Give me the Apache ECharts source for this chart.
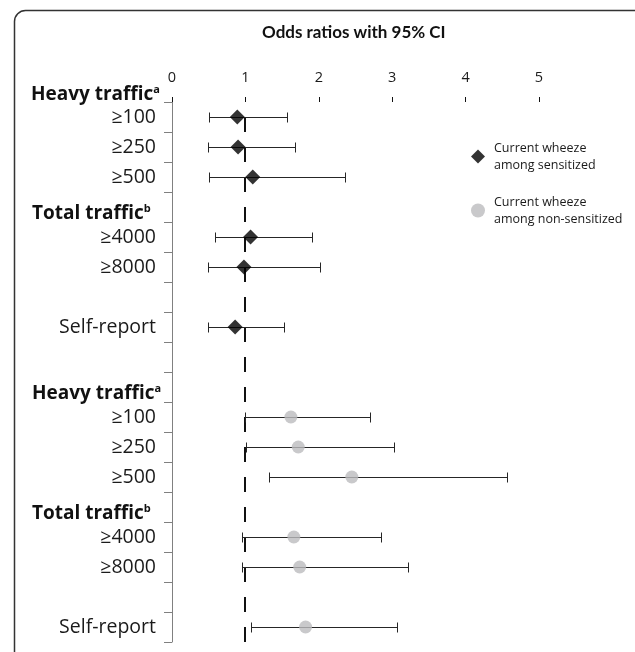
<!DOCTYPE html>
<html>
<head>
<meta charset="utf-8">
<script src="https://cdn.jsdelivr.net/npm/echarts@6/dist/echarts.min.js"></script>
<style>
html,body{margin:0;padding:0;background:#ffffff;}
#chart{width:635px;height:652px;}
</style>
</head>
<body>
<div id="chart"></div>
<script>
// ---- data ----
const categories = ['≥100','≥250','≥500','Total traffic','≥4000','≥8000','','Self-report','',
                    'Heavy traffic','≥100','≥250','≥500','Total traffic','≥4000','≥8000','','Self-report'];
const headerLabels = ['Heavy traffic', 'Total traffic'];
const headerNotes = ['a', 'b'];
const topHeader = 'Heavy traffic';
const topHeaderNote = 'a';
const xTicks = [0, 1, 2, 3, 4, 5];
const referenceOR = 1;

const sensName = 'Current wheeze among sensitized';
const sensRows  = [0, 1, 2, 4, 5, 7];
const sensOR    = [0.89, 0.90, 1.10, 1.07, 0.98, 0.86];
const sensLow   = [0.51, 0.49, 0.51, 0.59, 0.49, 0.49];
const sensHigh  = [1.56, 1.67, 2.36, 1.91, 2.01, 1.52];

const nonName = 'Current wheeze among non-sensitized';
const nonRows  = [10, 11, 12, 14, 15, 17];
const nonOR    = [1.62, 1.72, 2.45, 1.66, 1.74, 1.82];
const nonLow   = [0.99, 1.01, 1.32, 0.96, 0.96, 1.07];
const nonHigh  = [2.70, 3.03, 4.57, 2.85, 3.21, 3.07];

// ---- build ----
const FONT = "'Open Sans', 'DejaVu Sans', sans-serif";
const TFONT = "Lato, 'Open Sans', sans-serif";
const chart = echarts.init(document.getElementById('chart'), null, {renderer: 'canvas'});

function errData(rows, lo, hi) { return rows.map((r, i) => [lo[i], hi[i], r]); }
function ptData(rows, v) { return rows.map((r, i) => [v[i], r]); }

function renderErr(params, api) {
  const a = api.coord([api.value(0), api.value(2)]);
  const b = api.coord([api.value(1), api.value(2)]);
  const y = Math.round(a[1]) + 0.5;
  const x1 = Math.round(a[0]) + 0.5, x2 = Math.round(b[0]) + 0.5;
  const cap = 5;
  const st = {stroke: '#262626', lineWidth: 1};
  return {type: 'group', children: [
    {type: 'line', shape: {x1: x1, y1: y, x2: x2, y2: y}, style: st},
    {type: 'line', shape: {x1: x1, y1: y - cap, x2: x1, y2: y + cap}, style: st},
    {type: 'line', shape: {x1: x2, y1: y - cap, x2: x2, y2: y + cap}, style: st}
  ]};
}

function renderRef(params, api) {
  const p = api.coord([api.value(0), 0]);
  const x = Math.round(p[0]);
  return {type: 'line',
    shape: {x1: x, y1: params.coordSys.y, x2: x, y2: api.getHeight()},
    style: {stroke: '#111', lineWidth: 2, lineDash: [15, 15], lineDashOffset: 15}};
}

function yLabel(value) {
  const hi = headerLabels.indexOf(value);
  if (hi >= 0) return '{sp| }\n{h|' + value + '}{sup|' + headerNotes[hi] + '}';
  if (value === '') return '';
  return '{n|' + value + '}';
}

const option = {
  animation: false,
  backgroundColor: '#ffffff',
  title: {
    text: 'Odds ratios with 95% CI',
    left: 262, top: 24, padding: 0,
    textStyle: {fontFamily: TFONT, fontSize: 17, fontWeight: 'bold', color: '#111'}
  },
  graphic: [{
    type: 'rect', z: -1,
    shape: {x: 14.5, y: 10.5, width: 640, height: 700, r: 11},
    style: {fill: 'none', stroke: '#333', lineWidth: 1.5}
  }],
  legend: {
    orient: 'vertical', left: 471, top: 131, padding: 0,
    itemWidth: 14, itemHeight: 14, itemGap: 3,
    data: [{name: sensName, icon: 'diamond'}, {name: nonName, icon: 'circle'}],
    formatter: n => n.replace(' among', '\namong'),
    textStyle: {fontFamily: FONT, fontSize: 12.5, color: '#1a1a1a', lineHeight: 17, padding: [17, 0, 0, 4]}
  },
  grid: {left: 172, right: 96, top: 102, bottom: 10, containLabel: false},
  xAxis: {
    type: 'value', position: 'top', min: xTicks[0], max: xTicks[xTicks.length - 1], interval: 1,
    name: '{h|' + topHeader + '}{sup|' + topHeaderNote + '}',
    nameLocation: 'start', nameGap: 12,
    nameTextStyle: {
      padding: [0, 0, 14, 0],
      rich: {
        h: {fontFamily: FONT, fontSize: 19, fontWeight: 'bold', color: '#111', lineHeight: 22},
        sup: {fontFamily: FONT, fontSize: 11, fontWeight: 'bold', color: '#111', verticalAlign: 'top', lineHeight: 12}
      }
    },
    axisLine: {lineStyle: {color: '#111', width: 1}},
    axisTick: {show: true, length: 5, lineStyle: {color: '#111'}},
    axisLabel: {fontFamily: FONT, fontSize: 14.5, color: '#1a1a1a', margin: 17},
    splitLine: {show: false}
  },
  yAxis: {
    type: 'category', inverse: true, data: categories,
    axisLine: {lineStyle: {color: '#808080', width: 1}},
    axisTick: {show: true, length: 8, interval: 0, lineStyle: {color: '#808080'}},
    axisLabel: {
      interval: 0, align: 'left', margin: 140, formatter: yLabel,
      rich: {
        n: {fontFamily: FONT, fontSize: 19.5, color: '#1a1a1a', width: 124, align: 'right'},
        h: {fontFamily: FONT, fontSize: 19, fontWeight: 'bold', color: '#111', lineHeight: 22},
        sup: {fontFamily: FONT, fontSize: 11, fontWeight: 'bold', color: '#111', verticalAlign: 'top', lineHeight: 12},
        sp: {fontSize: 1, lineHeight: 14}
      }
    },
    splitLine: {show: false}
  },
  series: [
    {type: 'custom', name: 'ref', data: [[referenceOR]], renderItem: renderRef, encode: {x: 0}, silent: true, z: 1},
    {type: 'custom', name: sensName + ' CI', data: errData(sensRows, sensLow, sensHigh), renderItem: renderErr, encode: {x: [0, 1], y: 2}, z: 2, silent: true},
    {type: 'custom', name: nonName + ' CI', data: errData(nonRows, nonLow, nonHigh), renderItem: renderErr, encode: {x: [0, 1], y: 2}, z: 2, silent: true},
    {type: 'scatter', name: sensName, data: ptData(sensRows, sensOR), symbol: 'diamond', symbolSize: 15,
     itemStyle: {color: '#000000'}, z: 3},
    {type: 'scatter', name: nonName, data: ptData(nonRows, nonOR), symbol: 'circle', symbolSize: 13,
     itemStyle: {color: '#bbbcbe'}, z: 3}
  ]
};
chart.setOption(option);
</script>
</body>
</html>
